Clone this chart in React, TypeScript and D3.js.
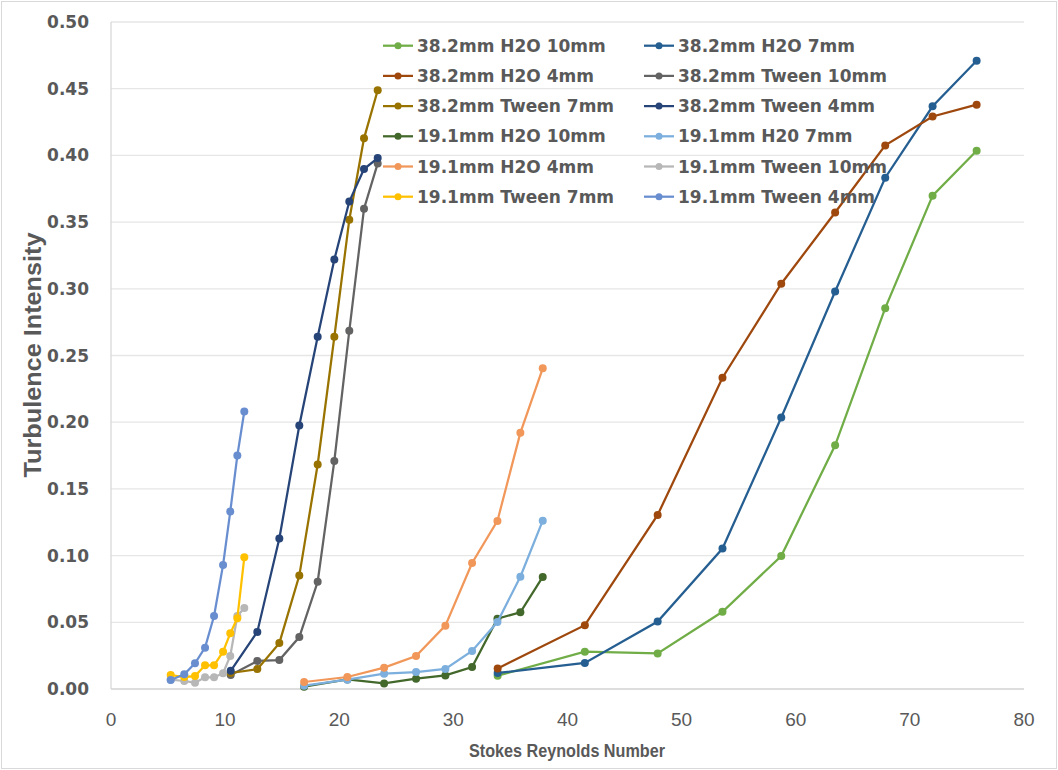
import React from "react";
import * as d3 from "d3";

const reH2O382 = [33.88, 41.52, 47.9, 53.58, 58.73, 63.45, 67.84, 71.99, 75.85];
const reTween382 = [10.49, 12.82, 14.75, 16.5, 18.11, 19.57, 20.88, 22.17, 23.37];
const reH2O191 = [16.92, 20.71, 23.93, 26.73, 29.3, 31.64, 33.86, 35.87, 37.83];
const reTween191 = [5.23, 6.42, 7.36, 8.24, 9.03, 9.82, 10.45, 11.07, 11.68];

const h2o382_10 = [0.01, 0.028, 0.0267, 0.0579, 0.0997, 0.1827, 0.2855, 0.3698, 0.4035];
const h2o382_7 = [0.012, 0.0195, 0.0506, 0.1053, 0.2035, 0.298, 0.3833, 0.4368, 0.471];
const h2o382_4 = [0.0154, 0.0478, 0.1305, 0.2333, 0.3038, 0.3572, 0.4075, 0.4292, 0.438];
const tween382_10 = [0.0105, 0.021, 0.0217, 0.0389, 0.0804, 0.171, 0.2685, 0.36, 0.394];
const tween382_7 = [0.012, 0.0149, 0.0344, 0.085, 0.1683, 0.264, 0.3518, 0.4128, 0.4488];
const tween382_4 = [0.0136, 0.0428, 0.1128, 0.1975, 0.264, 0.322, 0.3654, 0.3898, 0.398];
const h2o191_10 = [0.0017, 0.0072, 0.0042, 0.0077, 0.0102, 0.0165, 0.0527, 0.0575, 0.084];
const h2o191_7 = [0.0025, 0.007, 0.0115, 0.0127, 0.015, 0.0285, 0.0502, 0.0842, 0.1262];
const h2o191_4 = [0.00525, 0.009, 0.016, 0.0247, 0.0475, 0.0945, 0.126, 0.192, 0.2404];
const tween191_10 = [0.007, 0.006, 0.0047, 0.0088, 0.0088, 0.0118, 0.0247, 0.0547, 0.0607];
const tween191_7 = [0.0105, 0.009, 0.0097, 0.0178, 0.0178, 0.028, 0.0417, 0.053, 0.0987];
const tween191_4 = [0.0067, 0.011, 0.0193, 0.031, 0.0547, 0.093, 0.133, 0.175, 0.208];

const seriesNames = [
  "38.2mm H2O 10mm", "38.2mm H2O 7mm", "38.2mm H2O 4mm",
  "38.2mm Tween 10mm", "38.2mm Tween 7mm", "38.2mm Tween 4mm",
  "19.1mm H2O 10mm", "19.1mm H20 7mm", "19.1mm H2O 4mm",
  "19.1mm Tween 10mm", "19.1mm Tween 7mm", "19.1mm Tween 4mm",
];
const seriesColors = [
  "#70AD47", "#255E91", "#9E480E",
  "#636363", "#997300", "#264478",
  "#43682B", "#7CAFDD", "#F1975A",
  "#B7B7B7", "#FFC000", "#698ED0",
];
const seriesX = [
  reH2O382, reH2O382, reH2O382,
  reTween382, reTween382, reTween382,
  reH2O191, reH2O191, reH2O191,
  reTween191, reTween191, reTween191,
];
const seriesY = [
  h2o382_10, h2o382_7, h2o382_4,
  tween382_10, tween382_7, tween382_4,
  h2o191_10, h2o191_7, h2o191_4,
  tween191_10, tween191_7, tween191_4,
];

const xTicks = [0, 10, 20, 30, 40, 50, 60, 70, 80];
const yTicks = [0, 0.05, 0.1, 0.15, 0.2, 0.25, 0.3, 0.35, 0.4, 0.45, 0.5];

const W = 1058, H = 770;
const x = d3.scaleLinear().domain([0, 80]).range([111, 1024]);
const y = d3.scaleLinear().domain([0, 0.5]).range([689, 22]);

const labelColor = "#595959";
const boldFont = "'DejaVu Sans', Verdana, sans-serif";
const narrowFont = "'Liberation Sans Narrow', 'Arial Narrow', 'Liberation Sans', sans-serif";

export default function App() {
  const line = d3.line<[number, number]>().x((d) => x(d[0])).y((d) => y(d[1]));
  return (
    <svg width={W} height={H} style={{ position: "absolute", left: 0, top: 0 }}>
      <rect x={0} y={0} width={W} height={H} fill="#fff" />
      <rect x={1.5} y={1.5} width={W - 3} height={H - 3} fill="none" stroke="#D9D9D9" />
      {yTicks.map((t) => (
        <line key={"g" + t} x1={x(0)} x2={x(80)} y1={y(t)} y2={y(t)} stroke="#E6E6E6" strokeWidth={1.3} />
      ))}
      <line x1={x(0)} x2={x(0)} y1={y(0.5)} y2={y(0)} stroke="#D9D9D9" strokeWidth={1.3} />
      <line x1={x(0)} x2={x(80)} y1={y(0)} y2={y(0)} stroke="#D9D9D9" strokeWidth={1.3} />
      {yTicks.map((t) => (
        <text key={"yt" + t} x={89} y={y(t)} textAnchor="end" dominantBaseline="central"
          fontFamily={boldFont} fontWeight="bold" fontSize={17} fill={labelColor}>
          {t.toFixed(2)}
        </text>
      ))}
      {xTicks.map((t) => (
        <text key={"xt" + t} x={x(t)} y={719} textAnchor="middle" dominantBaseline="central"
          fontFamily={narrowFont} fontSize={19} fill={labelColor}>
          {t}
        </text>
      ))}
      <text x={567} y={750} textAnchor="middle" dominantBaseline="central"
        fontFamily={narrowFont} fontWeight="bold" fontSize={19} fill={labelColor}
        textLength={196} lengthAdjust="spacingAndGlyphs">
        Stokes Reynolds Number
      </text>
      <text transform="translate(33,355) rotate(-90)" textAnchor="middle" dominantBaseline="central"
        fontFamily={narrowFont} fontWeight="bold" fontSize={23} fill={labelColor}
        textLength={245} lengthAdjust="spacingAndGlyphs">
        Turbulence Intensity
      </text>
      {seriesNames.map((name, i) => {
        const pts: [number, number][] = seriesX[i].map((xv, j) => [xv, seriesY[i][j]]);
        return (
          <g key={name}>
            <path d={line(pts) || ""} fill="none" stroke={seriesColors[i]} strokeWidth={2.25} />
            {pts.map((p, j) => (
              <circle key={j} cx={x(p[0])} cy={y(p[1])} r={4} fill={seriesColors[i]} />
            ))}
          </g>
        );
      })}
      {seriesNames.map((name, i) => {
        const col = i % 2;
        const row = Math.floor(i / 2);
        const lx = col === 0 ? 383 : 644;
        const ly = 45.7 + row * 30.2;
        return (
          <g key={"lg" + name}>
            <line x1={lx} x2={lx + 30} y1={ly} y2={ly} stroke={seriesColors[i]} strokeWidth={2.25} />
            <circle cx={lx + 15} cy={ly} r={3.5} fill={seriesColors[i]} />
            <text x={lx + 34} y={ly} dominantBaseline="central" fontFamily={boldFont} fontWeight="bold"
              fontSize={17} fill={labelColor}>
              {name}
            </text>
          </g>
        );
      })}
    </svg>
  );
}
